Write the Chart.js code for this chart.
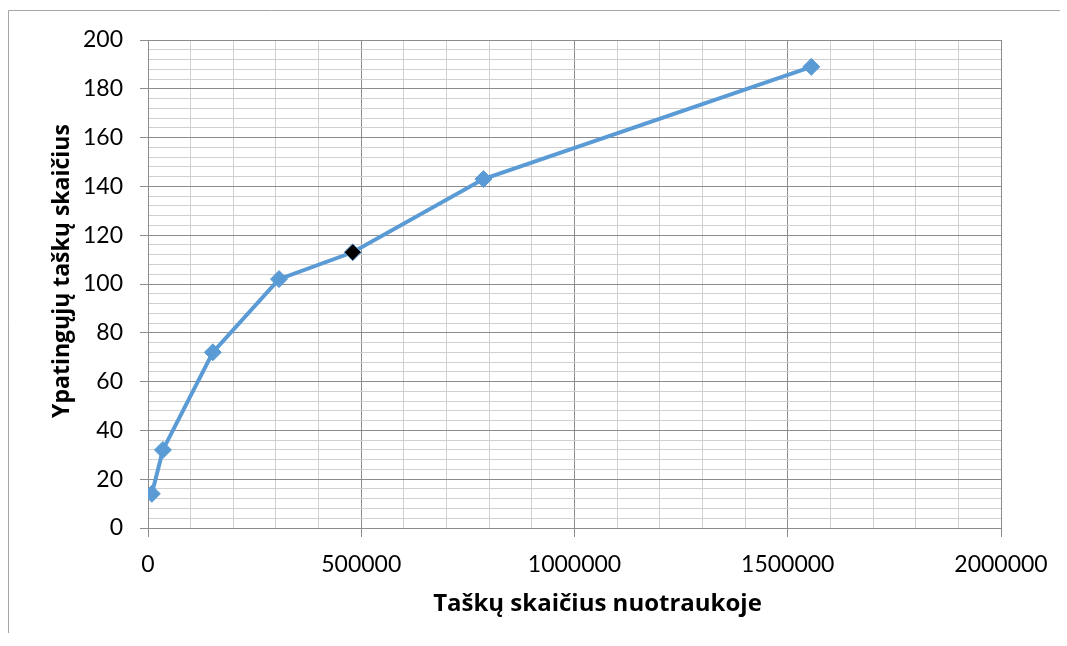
<!DOCTYPE html>
<html>
<head>
<meta charset="utf-8">
<script src="https://cdn.jsdelivr.net/npm/chart.js@4/dist/chart.umd.min.js"></script>
<style>
  html, body { margin: 0; padding: 0; background: #ffffff; }
  #wrap { position: relative; width: 1067px; height: 646px; }
</style>
</head>
<body>
<div id="wrap"><canvas id="chart" width="1067" height="646"></canvas></div>
<script>
// Image size (number of pixels) vs. number of detected feature points
const pixelCounts = [9000, 35000, 152000, 307200, 480000, 786432, 1555200];
const featureCounts = [14, 32, 72, 102, 113, 143, 189];
const highlightIndex = 4;

const xTitle = 'Taškų skaičius nuotraukoje';
const yTitle = 'Ypatingųjų taškų skaičius';

const xMax = 2000000, xMajor = 500000, xMinor = 100000;
const yMax = 200, yMajor = 20, yMinor = 4;

const lineBlue = '#5B9BD5';
const majorGrid = '#8c8c8c';
const minorGrid = '#d0d0d0';
const tickFont = 'Lato, "Open Sans", sans-serif';
const titleFont = '"Open Sans", Lato, sans-serif';

const points = pixelCounts.map((x, i) => ({ x: x, y: featureCounts[i] }));

// Light frame around the chart area
const framePlugin = {
  id: 'frame',
  beforeDraw(chart) {
    const c = chart.ctx;
    c.save();
    c.strokeStyle = '#a6a6a6';
    c.lineWidth = 1;
    c.beginPath();
    c.moveTo(8.5, 633);
    c.lineTo(8.5, 10.5);
    c.lineTo(1060, 10.5);
    c.stroke();
    c.restore();
  }
};

// Axis titles, placed relative to the plot area
const axisTitlePlugin = {
  id: 'axisTitles',
  afterDraw(chart) {
    const c = chart.ctx;
    const a = chart.chartArea;
    c.save();
    c.fillStyle = '#000000';
    c.textAlign = 'center';
    c.textBaseline = 'middle';
    c.font = 'bold 24px ' + titleFont;
    c.fillText(xTitle, (a.left + a.right) / 2 + 23, a.bottom + 76);
    c.translate(a.left - 86, (a.top + a.bottom) / 2 - 13);
    c.rotate(-Math.PI / 2);
    c.font = 'bold 23px ' + titleFont;
    c.fillText(yTitle, 0, 0);
    c.restore();
  }
};

function isMajor(v, step) {
  return Math.abs(v / step - Math.round(v / step)) < 1e-9;
}

new Chart(document.getElementById('chart'), {
  type: 'line',
  data: {
    datasets: [{
      data: points,
      borderColor: lineBlue,
      borderWidth: 4,
      tension: 0,
      fill: false,
      pointStyle: 'rectRot',
      pointRadius: 8.5,
      pointHoverRadius: 8.5,
      pointBackgroundColor: featureCounts.map((_, i) => i === highlightIndex ? '#000000' : lineBlue),
      pointBorderColor: lineBlue,
      pointBorderWidth: 1
    }]
  },
  options: {
    responsive: false,
    animation: false,
    layout: { padding: { left: 49, top: 40, right: 66, bottom: 28 } },
    plugins: {
      legend: { display: false },
      tooltip: { enabled: false }
    },
    scales: {
      x: {
        type: 'linear',
        min: 0,
        max: xMax,
        afterFit(scale) { scale.height = 90; },
        ticks: {
          stepSize: xMinor,
          autoSkip: false,
          maxRotation: 0,
          padding: 14,
          color: '#000000',
          font: { family: tickFont, size: 23 },
          callback: v => isMajor(v, xMajor) ? String(v) : ''
        },
        grid: {
          color: ctx => isMajor(ctx.tick.value, xMajor) ? majorGrid : minorGrid,
          tickColor: ctx => isMajor(ctx.tick.value, xMajor) ? majorGrid : 'rgba(0,0,0,0)',
          tickLength: 9,
          lineWidth: 1
        },
        border: { color: majorGrid, width: 1 },
        title: { display: false }
      },
      y: {
        type: 'linear',
        min: 0,
        max: yMax,
        afterFit(scale) { scale.width = 99; },
        ticks: {
          stepSize: yMinor,
          autoSkip: false,
          padding: 17,
          color: '#000000',
          font: { family: tickFont, size: 23 },
          callback: v => isMajor(v, yMajor) ? String(v) : ''
        },
        grid: {
          color: ctx => isMajor(ctx.tick.value, yMajor) ? majorGrid : minorGrid,
          tickColor: ctx => isMajor(ctx.tick.value, yMajor) ? majorGrid : 'rgba(0,0,0,0)',
          tickLength: 8,
          lineWidth: 1
        },
        border: { color: majorGrid, width: 1 },
        title: { display: false }
      }
    }
  },
  plugins: [framePlugin, axisTitlePlugin]
});
</script>
</body>
</html>
